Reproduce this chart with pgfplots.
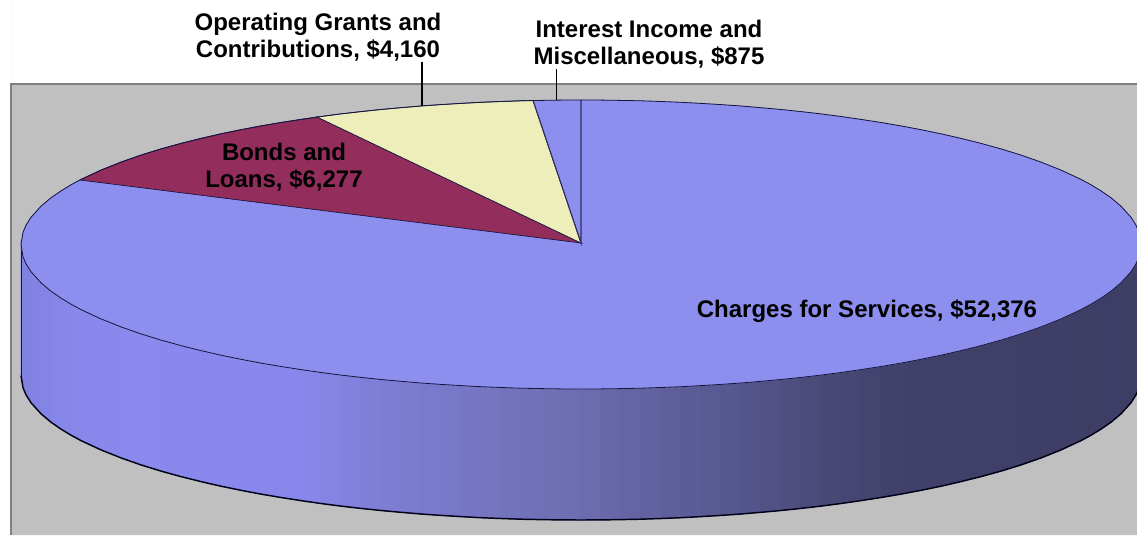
\documentclass[border=0pt]{standalone}
\usepackage{pgfplots}
\usepackage{pgfplotstable}
\usepackage{fontspec}
\setmainfont{Liberation Sans}
\pgfplotsset{compat=1.18}
\definecolor{bgray}{RGB}{192,192,192}
\definecolor{frame}{RGB}{128,128,128}
\definecolor{face}{RGB}{140,143,238}
\definecolor{bonds}{RGB}{147,45,92}
\definecolor{grants}{RGB}{238,238,187}
\definecolor{edge}{RGB}{20,20,60}
\pgfplotstableread{
x h
21 0
23 12.2
26 19.3
31 27.2
41 38.3
51 46.7
61 53.6
71 59.7
81 65.1
101 74.4
121 82.4
141 89.4
161 95.6
181 101.1
201 106.1
221 110.7
241 114.8
261 118.6
281 122.0
301 125.1
321 128.0
341 130.6
361 132.9
381 135.0
401 136.8
421 138.5
441 139.9
461 141.1
481 142.2
501 143.0
521 143.7
541 144.1
561 144.4
581 144.5
601 144.4
621 144.1
641 143.7
661 143.0
681 142.2
701 141.1
721 139.9
741 138.5
761 136.8
781 135.0
801 132.9
821 130.6
841 128.0
861 125.1
881 122.0
901 118.6
921 114.8
941 110.7
961 106.1
981 101.1
1001 95.6
1021 89.4
1041 82.4
1061 74.4
1081 65.1
1091 59.7
1101 53.6
1111 46.7
1121 38.3
1131 27.2
1136 19.3
1139 12.2
1141 0
}\arc
\newcommand{\lab}{\fontsize{18}{20.2}\selectfont\bfseries}
\begin{document}
\begin{tikzpicture}
\begin{axis}[
  scale only axis, width=852.75pt, height=401.25pt,
  xmin=0, xmax=1137, ymin=0, ymax=535, y dir=reverse,
  ticks=none, axis line style={draw=none},
  axis on top=false,
  colormap={side}{[1pt] rgb255(21pt)=(128,128,222) rgb255(60pt)=(135,135,234) rgb255(120pt)=(137,137,238) rgb255(300pt)=(136,136,236) rgb255(380pt)=(126,126,214) rgb255(500pt)=(116,116,190) rgb255(580pt)=(109,109,176) rgb255(650pt)=(98,98,160) rgb255(750pt)=(84,84,140) rgb255(820pt)=(74,74,120) rgb255(900pt)=(64,64,106) rgb255(1141pt)=(62,61,100)},
]
% background and frame
\addplot[fill=bgray, draw=none] coordinates {(11,84) (1137,84) (1137,535) (11,535)} \closedcycle;
\addplot[draw=frame, line width=1.8pt] coordinates {(11,535) (11,84) (1137,84)};
% side of the pie
\addplot[surf, shader=flat, point meta=x, point meta min=21, point meta max=1141] coordinates {
(21,240) (23,240) (26,240) (31,240) (41,240) (51,240) (61,240) (71,240) (81,240) (101,240) (121,240) (141,240) (161,240) (181,240) (201,240) (221,240) (241,240) (261,240) (281,240) (301,240) (321,240) (341,240) (361,240) (381,240) (401,240) (421,240) (441,240) (461,240) (481,240) (501,240) (521,240) (541,240) (561,240) (581,240) (601,240) (621,240) (641,240) (661,240) (681,240) (701,240) (721,240) (741,240) (761,240) (781,240) (801,240) (821,240) (841,240) (861,240) (881,240) (901,240) (921,240) (941,240) (961,240) (981,240) (1001,240) (1021,240) (1041,240) (1061,240) (1081,240) (1091,240) (1101,240) (1111,240) (1121,240) (1131,240) (1136,240) (1139,240) (1141,240)

(21,375.5) (23,387.7) (26,394.8) (31,402.7) (41,413.8) (51,422.2) (61,429.1) (71,435.2) (81,440.6) (101,449.9) (121,457.9) (141,464.9) (161,471.1) (181,476.6) (201,481.6) (221,486.2) (241,490.3) (261,494.1) (281,497.5) (301,500.6) (321,503.5) (341,506.1) (361,508.4) (381,510.5) (401,512.3) (421,514.0) (441,515.4) (461,516.6) (481,517.7) (501,518.5) (521,519.2) (541,519.6) (561,519.9) (581,520.0) (601,519.9) (621,519.6) (641,519.2) (661,518.5) (681,517.7) (701,516.6) (721,515.4) (741,514.0) (761,512.3) (781,510.5) (801,508.4) (821,506.1) (841,503.5) (861,500.6) (881,497.5) (901,494.1) (921,490.3) (941,486.2) (961,481.6) (981,476.6) (1001,471.1) (1021,464.9) (1041,457.9) (1061,449.9) (1081,440.6) (1091,435.2) (1101,429.1) (1111,422.2) (1121,413.8) (1131,402.7) (1136,394.8) (1139,387.7) (1141,375.5)
};
% bottom rim and left edge
\addplot[draw=black!90!blue, line width=1.1pt] table[x=x, y expr=375.5+\thisrow{h}] {\arc};
\addplot[draw=edge, line width=0.9pt] coordinates {(21.5,244.5) (21.5,375.5)};
% top face
\addplot[fill=face, draw=face] table[x=x, y expr=244.5-\thisrow{h}] {\arc} -- cycle;
\addplot[fill=face, draw=face] table[x=x, y expr=244.5+\thisrow{h}] {\arc} -- cycle;
% slices
\addplot[fill=bonds, draw=edge, line width=0.5pt] coordinates {(581,243) (80,180) (101,170.1) (121,162.1) (141,155.1) (161,148.9) (181,143.4) (201,138.4) (221,133.8) (241,129.7) (261,125.9) (281,122.5) (301,119.4) (317,117)} -- cycle;
\addplot[fill=grants, draw=edge, line width=0.5pt] coordinates {(581,243) (317,117) (321,116.5) (341,113.9) (361,111.6) (381,109.5) (401,107.7) (421,106) (441,104.6) (461,103.4) (481,102.3) (501,101.5) (521,100.8) (533,100.5)} -- cycle;
\addplot[draw=edge!80!face, line width=0.8pt] coordinates {(533,100.5) (581,243) (581,100)};
% outlines of the top face
\addplot[draw=edge, line width=0.6pt] table[x=x, y expr=244.5-\thisrow{h}] {\arc};
\addplot[draw=edge, line width=0.6pt] table[x=x, y expr=244.5+\thisrow{h}] {\arc};
% leader lines
\addplot[draw=black, line width=1.5pt] coordinates {(421.5,62) (421.5,106)};
\addplot[draw=black, line width=1.1pt] coordinates {(556.5,69) (556.5,100)};
% labels
\node[align=center, font=\lab] at (axis cs:318,37) {Operating Grants and\\Contributions, \$4,160};
\node[align=center, font=\lab] at (axis cs:649,44) {Interest Income and\\Miscellaneous, \$875};
\node[align=center, font=\lab] at (axis cs:284,167.5) {Bonds and\\Loans, \$6,277};
\node[align=center, font=\lab] at (axis cs:867,311.5) {Charges for Services, \$52,376};
\end{axis}
\end{tikzpicture}
\end{document}
